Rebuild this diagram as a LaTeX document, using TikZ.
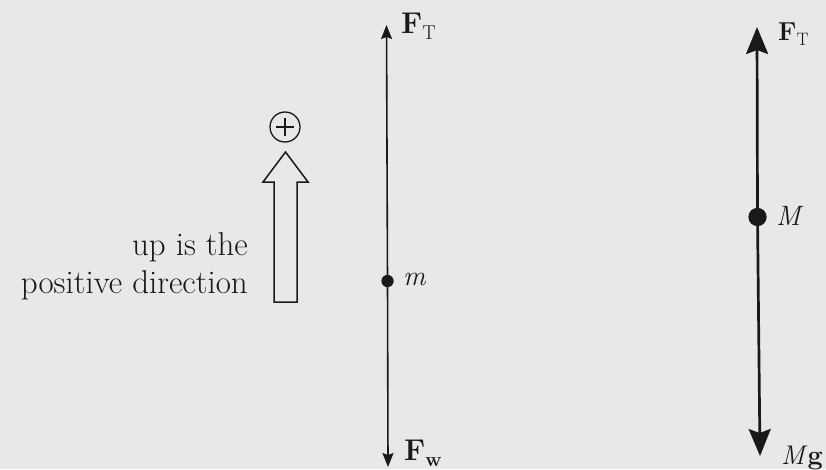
\documentclass[tikz,border=0pt]{standalone}
\usetikzlibrary{arrows.meta}
\definecolor{paper}{RGB}{232,232,230}
\definecolor{ink}{RGB}{25,25,25}
\newcommand{\vecsub}[3]{{\bfseries F}\raisebox{-#2}{\fontsize{#1}{#1}\selectfont #3}}
\begin{document}
\begin{tikzpicture}[x=1pt,y=-1pt,
  dotS/.style={circle,fill=ink,inner sep=0pt,minimum size=#1},
  lbl/.style={inner sep=0pt,text=ink,font=\fontsize{#1}{#1}\selectfont},
  thinvec/.style={draw=ink,line width=1.6pt,-{Stealth[length=14pt,width=11pt,inset=2pt]}},
  thickvec/.style={draw=ink,line width=2.7pt,-{Stealth[length=27pt,width=22pt,inset=4pt]}},
  openarrow/.style={draw=ink,line width=1.5pt,line join=miter}]
\fill[paper] (0,0) rectangle (826,469);
\useasboundingbox (0,0) rectangle (826,469);

% left free body
\coordinate (lt) at (386.5,25);
\coordinate (lb) at (388,467);
\node[dotS=12pt] (m) at (387.5,281) {};
\draw[thinvec] (m) -- (lt);
\draw[thinvec] (m) -- (lb);
\node[dotS=12pt] at (m) {};
\node[lbl=30, anchor=base west] (FTl) at (401,33) {\vecsub{20}{6pt}{T}};
\node[lbl=30, anchor=base west] (Fw) at (404,460) {\vecsub{20}{6pt}{\bfseries w}};
\node[lbl=28, anchor=west] (mlab) at (403,279) {\itshape m};

% right free body
\coordinate (rt) at (757,27);
\coordinate (rb) at (760,456);
\node[dotS=18pt] (M) at (757.5,217) {};
\draw[thickvec] (M) -- (rt);
\draw[thickvec] (M) -- (rb);
\node[dotS=18pt] at (M) {};
\node[lbl=26, anchor=base west] (FTr) at (778,40) {\vecsub{18}{5pt}{T}};
\node[lbl=28, anchor=west] (Mlab) at (776,216) {\itshape M};
\node[lbl=27, anchor=base west] (Mg) at (781,464) {\textit{M}\textbf{g}};

% positive direction indicator
\draw[openarrow] (274,302) -- (274,182) -- (263,182) -- (285.5,152) -- (308,182) -- (297,182) -- (297,302) -- cycle;
\node[circle,draw=ink,line width=1.3pt,minimum size=30pt,inner sep=0pt] (plus) at (285,127) {};
\draw[ink,line width=1.3pt] ([xshift=-9pt]plus.center) -- ([xshift=9pt]plus.center);
\draw[ink,line width=1.3pt] ([yshift=-9pt]plus.center) -- ([yshift=9pt]plus.center);
\node[anchor=south east,inner sep=0pt,text depth=0pt,align=right,text=ink,
      font=\fontsize{33}{38}\selectfont] (txt) at (248,294) {up is the\\positive direction};
\end{tikzpicture}
\end{document}
